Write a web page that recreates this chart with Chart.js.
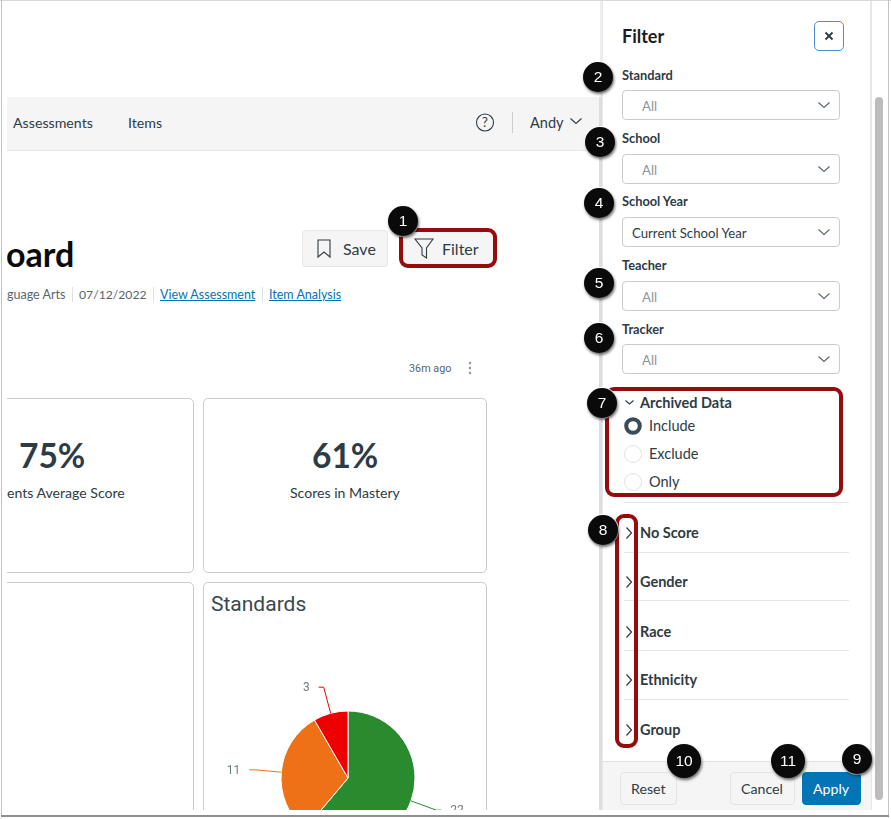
<!DOCTYPE html>
<html>
<head>
<meta charset="utf-8">
<script src="https://cdn.jsdelivr.net/npm/chart.js@4"></script>
<style>
html, body { margin: 0; padding: 0; background: #fff; overflow: hidden; width: 891px; height: 819px; }
body { font-family: Lato, sans-serif; color: #2d3b45; position: relative; }
.a { position: absolute; box-sizing: border-box; }
.t { position: absolute; white-space: nowrap; line-height: 20px; height: 20px; }
.sel { position: absolute; left: 622px; width: 217px; height: 30px; border: 1px solid #c7cdd1; border-radius: 4px; background: #fff; box-sizing: border-box; }
.redbox { position: absolute; box-sizing: border-box; border: 4px solid #960c0c; border-radius: 9px; }
.badge { position: absolute; border-radius: 50%; background: #0a0a0a; color: #fff; text-align: center; font-family: "Liberation Sans", sans-serif; font-size: 15.5px; box-shadow: 1px 2px 3px rgba(0,0,0,.6), 0 0 0 1px #fff; }
.btn { position: absolute; box-sizing: border-box; border: 1px solid #e3e5e6; border-radius: 4px; background: #f5f5f5; }
.card { position: absolute; box-sizing: border-box; border: 1px solid #c7cdd1; border-radius: 5px; background: #fff; }
svg { position: absolute; overflow: visible; }
</style>
</head>
<body>
<div class="a" id="left" style="left:7px;top:0;width:593px;height:810px;overflow:hidden"></div>
<div class="a" id="chartbox" style="left:204px;top:620px;width:282px;height:190px;overflow:hidden">
  <canvas id="pie"></canvas>
</div>
<div class="a" id="panel" style="left:0;top:0;width:891px;height:819px;pointer-events:none"></div>

<script>
// pie values
var categories = ['Mastery', 'Near Mastery', 'Remediation'];
var values = [22, 11, 3];
var sliceColors = ['#2a8a2e', '#ef7117', '#ee0000'];
var pieRadius = 67;

var selectLabels = ['Standard', 'School', 'School Year', 'Teacher', 'Tracker'];
var selectValues = ['All', 'All', 'Current School Year', 'All', 'All'];
var radioLabels = ['Include', 'Exclude', 'Only'];
var sectionLabels = ['No Score', 'Gender', 'Race', 'Ethnicity', 'Group'];

var left = document.getElementById('left');
var panel = document.getElementById('panel');

function addText(parent, x, cy, str, style) {
    var el = document.createElement('div');
    el.className = 't';
    el.textContent = str;
    el.style.left = x + 'px';
    el.style.top = (cy - 10) + 'px';
    el.style.cssText += style || '';
    parent.appendChild(el);
    return el;
}

function addBox(parent, cls, x, y, w, h, style) {
    var el = document.createElement('div');
    el.className = cls;
    el.style.left = x + 'px';
    el.style.top = y + 'px';
    el.style.width = w + 'px';
    el.style.height = h + 'px';
    el.style.cssText += style || '';
    parent.appendChild(el);
    return el;
}

function addSvg(parent, x, y, w, h, inner) {
    var holder = document.createElement('div');
    holder.innerHTML = '<svg width="' + w + '" height="' + h + '" style="left:' + x + 'px;top:' + y + 'px">' + inner + '</svg>';
    parent.appendChild(holder.firstChild);
}

function chevronDown(parent, cx, cy, w, color) {
    addSvg(parent, cx - w / 2, cy - w / 4, w, w / 2, '<path d="M0.5 0.5L' + (w / 2) + ' ' + (w / 2 - 0.5) + 'L' + (w - 0.5) + ' 0.5" fill="none" stroke="' + color + '" stroke-width="1.1"/>');
}

function chevronRight(parent, cx, cy, h, color) {
    addSvg(parent, cx - h / 4, cy - h / 2, h / 2, h, '<path d="M0.5 0.5L' + (h / 2 - 0.5) + ' ' + (h / 2) + 'L0.5 ' + (h - 0.5) + '" fill="none" stroke="' + color + '" stroke-width="1.2"/>');
}

// page behind the panel (offsets are relative to #left, which starts at x=7)
addBox(left, 'a', 0, 97, 593, 54, 'background:#f5f5f5;border-bottom:1px solid #e4e6e7');
addText(left, 6, 123, 'Assessments', 'font-size:14.2px');
addText(left, 121, 123, 'Items', 'font-size:14.2px');
addSvg(left, 468, 113, 20, 20, '<circle cx="10" cy="9.5" r="8.5" fill="none" stroke="#2d3b45" stroke-width="1.1"/><text x="10" y="14" text-anchor="middle" font-size="13" font-family="Lato" fill="#2d3b45">?</text>');
addBox(left, 'a', 505, 112, 1, 21, 'background:#c7cdd1');
addText(left, 523, 123, 'Andy', 'font-size:14.5px');
chevronDown(left, 569, 121, 12, '#2d3b45');

addText(left, 0, 254, 'oard', 'font-size:34px;font-weight:700;color:#0a0a0a;margin-left:-1px');
addText(left, 0, 295, 'guage Arts', 'font-size:12.5px;color:#59666f');
addBox(left, 'a', 65, 287, 1, 15, 'background:#dfe2e4');
addText(left, 72, 295, '07/12/2022', 'font-size:12.2px;color:#59666f');
addBox(left, 'a', 146, 287, 1, 15, 'background:#dfe2e4');
addText(left, 153, 295, 'View Assessment', 'font-size:12.5px;color:#0374b5;text-decoration:underline');
addBox(left, 'a', 255, 287, 1, 15, 'background:#dfe2e4');
addText(left, 262, 295, 'Item Analysis', 'font-size:12.5px;color:#0374b5;text-decoration:underline');

addBox(left, 'btn', 295, 230, 86, 37, '');
addSvg(left, 310, 239, 15, 20, '<path d="M1 1H13V18L7 13L1 18Z" fill="none" stroke="#2d3b45" stroke-width="1.1"/>');
addText(left, 336, 249, 'Save', 'font-size:16px');
addBox(left, 'btn', 393, 230, 95, 37, 'background:#f5f5f5');
addSvg(left, 407, 238, 20, 22, '<path d="M1 1H19L12.5 10V20L8 17V10Z" fill="none" stroke="#2d3b45" stroke-width="1.1"/>');
addText(left, 435, 249, 'Filter', 'font-size:16px');

addText(left, 402, 369, '36m ago', 'font-size:10.8px;color:#59666f;font-family:Roboto,sans-serif');
addSvg(left, 461, 361, 4, 14, '<circle cx="2" cy="2" r="1.2" fill="#8b969e"/><circle cx="2" cy="7" r="1.2" fill="#8b969e"/><circle cx="2" cy="12" r="1.2" fill="#8b969e"/>');

addBox(left, 'card', -8, 398, 195, 175, '');
addBox(left, 'card', 196, 398, 284, 175, '');
addBox(left, 'card', -8, 582, 195, 240, '');
addBox(left, 'card', 196, 582, 284, 240, '');
addText(left, 12, 455, '75%', 'font-size:33.5px;font-weight:700');
addText(left, 0, 493, 'ents Average Score', 'font-size:14.1px');
addText(left, 305, 455, '61%', 'font-size:33.5px;font-weight:700');
addText(left, 283, 493, 'Scores in Mastery', 'font-size:14.1px');
addText(left, 204, 604, 'Standards', 'font-size:21px;font-family:Roboto,sans-serif;color:#3a4750');

// filter panel
addBox(panel, 'a', 600, 0, 2, 97, 'background:#eceeef');
addBox(panel, 'a', 599, 97, 3, 713, 'background:#dcdfe1');
addBox(panel, 'a', 602, 1, 269, 809, 'background:#fff;border-left:1px solid #e6e8e9;border-right:1px solid #e6e8e9');
addBox(panel, 'a', 875, 97, 8, 703, 'background:#bcbcbc;border-radius:4px');
addBox(panel, 'a', 871, 1, 1, 809, 'background:#e4e6e7');

addText(panel, 622, 36, 'Filter', 'font-size:18px;font-weight:700;color:#1c1c1c');
addBox(panel, 'a', 814, 21, 30, 30, 'border:1.5px solid #4a8fd6;border-radius:5px;background:#fff');
addSvg(panel, 825, 32, 8, 8, '<path d="M0.5 0.5L7.5 7.5M7.5 0.5L0.5 7.5" stroke="#2d3b45" stroke-width="1.8"/>');

var labelY = [75, 138, 201, 265, 329];
var selectY = [90, 154, 217, 281, 344];
selectLabels.forEach(function (name, i) {
    addText(panel, 622, labelY[i], name, 'font-size:12.8px;font-weight:700;color:#2d3b45');
    addBox(panel, 'sel', 622, selectY[i], 218, 30, '');
    var isValue = selectValues[i] !== 'All';
    addText(panel, isValue ? 632 : 642, selectY[i] + 15.5, selectValues[i], 'font-size:13.2px;color:' + (isValue ? '#2d3b45' : '#8b969e'));
    chevronDown(panel, 823.5, selectY[i] + 15, 12, '#5a6770');
});

addText(panel, 640, 403, 'Archived Data', 'font-size:14.5px;font-weight:700');
chevronDown(panel, 629, 402, 9, '#2d3b45');
var radioY = [426, 454, 482];
radioLabels.forEach(function (name, i) {
    if (i == 0) {
        addSvg(panel, 623, 416, 20, 20, '<circle cx="10" cy="10" r="6.8" fill="#fff" stroke="#394b58" stroke-width="4"/>');
    } else {
        addSvg(panel, 623, radioY[i] - 10, 20, 20, '<circle cx="10" cy="10" r="8.5" fill="#fff" stroke="#dfe2e4" stroke-width="1"/>');
    }
    addText(panel, 649, radioY[i], name, 'font-size:14.5px');
});

var sectionY = [533, 582, 632, 680, 730];
sectionLabels.forEach(function (name, i) {
    addText(panel, 640, sectionY[i], name, 'font-size:14.5px;font-weight:700');
    chevronRight(panel, 629, sectionY[i], 12, '#2d3b45');
});
[502, 552, 600, 650, 699].forEach(function (y) {
    addBox(panel, 'a', 624, y, 225, 1, 'background:#e4e6e7');
});

addBox(panel, 'a', 603, 761, 268, 49, 'background:#f5f5f5;border-top:1px solid #dfe2e4');
addBox(panel, 'btn', 620, 772, 57, 33, '');
addText(panel, 631, 789, 'Reset', 'font-size:14.2px');
addBox(panel, 'btn', 730, 772, 65, 33, '');
addText(panel, 741, 789, 'Cancel', 'font-size:14.2px');
addBox(panel, 'btn', 802, 772, 59, 33, 'background:#0374b5;border-color:#0374b5');
addText(panel, 813, 789, 'Apply', 'font-size:14.2px;color:#fff');

// annotations
addBox(panel, 'redbox', 399, 228, 98, 40, '');
addBox(panel, 'redbox', 605, 387, 238, 110, '');
addBox(panel, 'redbox', 615, 514, 23, 234, '');

var badges = [
    ['1', 403, 221, 15], ['2', 598, 77, 15], ['3', 600, 142, 15], ['4', 599, 203, 15],
    ['5', 599, 283, 15], ['6', 599, 338, 15], ['7', 602, 403, 15], ['8', 603, 530, 15],
    ['9', 857, 759, 15], ['10', 684, 761, 17], ['11', 788, 761, 17]
];
badges.forEach(function (b) {
    var el = addBox(panel, 'badge', b[1] - b[3], b[2] - b[3], b[3] * 2, b[3] * 2, 'line-height:' + (b[3] * 2) + 'px');
    el.textContent = b[0];
});

// screenshot frame
addBox(panel, 'a', 0, 0, 891, 1, 'background:#d8d8d8');
addBox(panel, 'a', 1, 0, 1, 816, 'background:#c4c4c4');
addBox(panel, 'a', 888, 0, 1, 816, 'background:#c4c4c4');
addBox(panel, 'a', 1, 815, 888, 2, 'background:#8e8e8e');

// leader lines + value labels, placed from the arcs the chart computed
var leaderPlugin = {
    id: 'leaders',
    afterDatasetsDraw: function (chart) {
        var c = chart.ctx;
        var meta = chart.getDatasetMeta(0);
        meta.data.forEach(function (arc, i) {
            var mid = (arc.startAngle + arc.endAngle) / 2;
            var r = arc.outerRadius;
            var x0 = arc.x + Math.cos(mid) * r, y0 = arc.y + Math.sin(mid) * r;
            var x1 = arc.x + Math.cos(mid) * (r + 27), y1 = arc.y + Math.sin(mid) * (r + 27);
            var dir = Math.cos(mid) >= 0 ? 1 : -1;
            c.save();
            c.strokeStyle = sliceColors[i];
            c.lineWidth = 1;
            c.beginPath();
            c.moveTo(x0, y0);
            c.lineTo(x1, y1);
            c.lineTo(x1 + dir * 5, y1);
            c.stroke();
            c.fillStyle = '#6f7b84';
            c.font = '12px Roboto, sans-serif';
            c.textBaseline = 'middle';
            c.textAlign = dir > 0 ? 'left' : 'right';
            c.fillText(String(values[i]), x1 + dir * 14, y1 + 1);
            c.restore();
        });
    }
};

// canvas is taller than its clipped box so the pie runs off the bottom like in the screenshot
var canv = document.getElementById('pie');
canv.style.display = 'block';
canv.style.marginLeft = '3px';
canv.style.width = '282px';
canv.style.height = '316px';
canv.width = 282;
canv.height = 316;

new Chart(canv.getContext('2d'), {
    type: 'pie',
    data: {
        labels: categories,
        datasets: [{
            data: values,
            backgroundColor: sliceColors,
            borderColor: '#ffffff',
            borderWidth: 1,
            radius: pieRadius
        }]
    },
    options: {
        responsive: false,
        animation: false,
        plugins: { legend: { display: false }, tooltip: { enabled: false } }
    },
    plugins: [leaderPlugin]
});
</script>
</body>
</html>
